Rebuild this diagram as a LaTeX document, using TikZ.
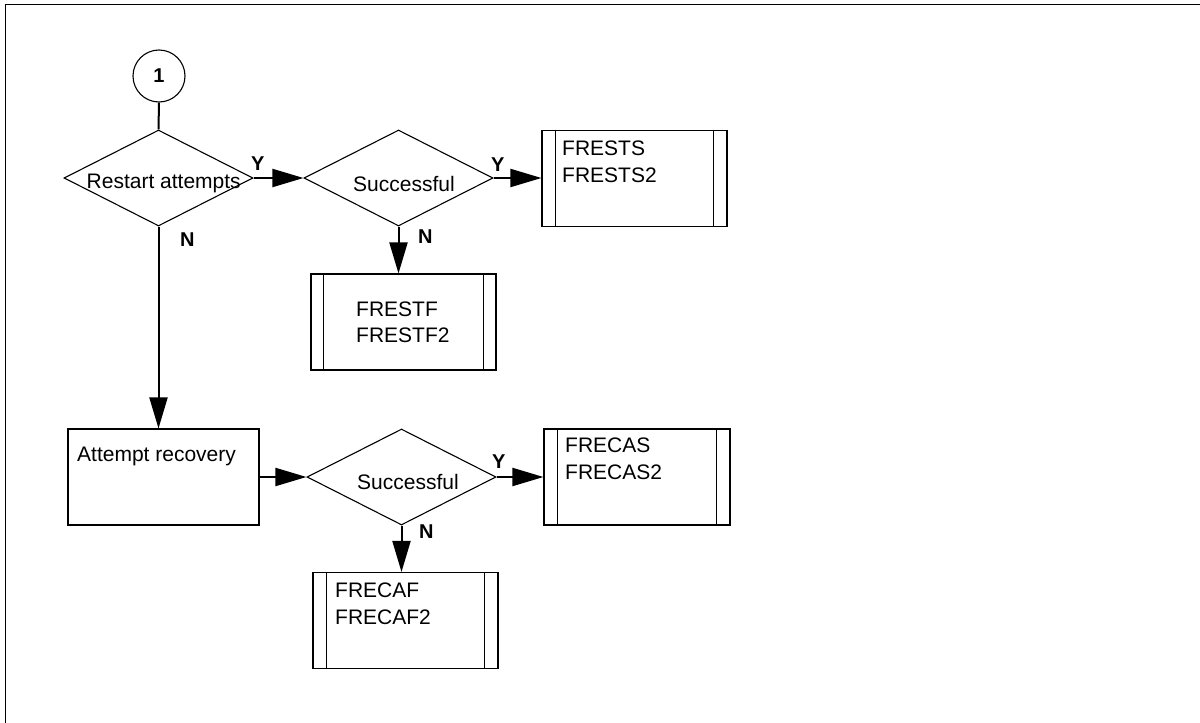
\documentclass[tikz,border=0pt]{standalone}
\usepackage{fontspec}
\setmainfont{Liberation Sans}
\usetikzlibrary{shapes.geometric,arrows.meta}
\begin{document}
\begin{tikzpicture}[x=1pt,y=-1pt,
  outline/.style={draw, line width=1.1pt, inner sep=0pt},
  decision/.style={outline, diamond, minimum width=189pt, minimum height=96pt},
  procbox/.style={outline, rectangle, minimum height=96pt},
  subr/.style={procbox, minimum width=185pt},
  conn/.style={line width=2pt},
  flow/.style={conn, -{Triangle[length=31pt,width=18pt]}},
  txt/.style={inner sep=0pt, font=\fontsize{21}{25}\selectfont},
  lbl/.style={inner sep=0pt, font=\fontsize{20}{24}\selectfont\bfseries}]
\useasboundingbox (0,0) rectangle (1200,723);
\draw[line width=1.6pt] (5.3,723) -- (5.3,4.5) -- (1200,4.5);

% nodes
\node[outline, circle, minimum size=52pt, font=\fontsize{20}{24}\selectfont\bfseries] (start) at (159,76) {1};
\node[decision] (d1) at (158.5,178) {};
\node[decision] (d2) at (398.5,178) {};
\node[subr] (fs) at (634.5,178.5) {};
\node[subr] (ff) at (403.5,322) {};
\node[procbox, minimum width=191pt] (ar) at (163.5,477) {};
\node[decision] (d3) at (401.5,477) {};
\node[subr, minimum width=186pt] (fcs) at (637,477) {};
\node[subr] (fcf) at (405.5,620.5) {};

% inner bars of the predefined-process boxes
\foreach \b/\w in {fs/14, ff/13, fcs/14, fcf/14}{
  \draw[line width=1.1pt] ([xshift=\w pt]\b.north west) -- ([xshift=\w pt]\b.south west);
  \draw[line width=1.1pt] ([xshift=-\w pt]\b.north east) -- ([xshift=-\w pt]\b.south east);
}

% texts
\node[txt, anchor=base west] (t1) at (86.5,188) {Restart attempts};
\node[txt, anchor=base west] (t2) at (353,191) {Successful};
\node[txt, anchor=base west] (t3) at (357,489) {Successful};
\node[txt, anchor=base west] (t4) at (77,461) {Attempt recovery};
\node[txt, anchor=base west] (t5) at (562,155) {FRESTS};
\node[txt, anchor=base west] (t6) at (562,182) {FRESTS2};
\node[txt, anchor=base west] (t7) at (356,316) {FRESTF};
\node[txt, anchor=base west] (t8) at (356,342) {FRESTF2};
\node[txt, anchor=base west] (t9) at (565,452) {FRECAS};
\node[txt, anchor=base west] (t10) at (565,479) {FRECAS2};
\node[txt, anchor=base west] (t11) at (335,597) {FRECAF};
\node[txt, anchor=base west] (t12) at (335,624) {FRECAF2};

% branch labels
\node[lbl, anchor=base west] (y1) at (251,170) {Y};
\node[lbl, anchor=base west] (y2) at (491,171) {Y};
\node[lbl, anchor=base west] (y3) at (492,468) {Y};
\node[lbl, anchor=base west] (n1) at (180,246) {N};
\node[lbl, anchor=base west] (n2) at (418,243) {N};
\node[lbl, anchor=base west] (n3) at (419,538) {N};

% connectors
\draw[conn] (start.south) -- (d1.north);
\draw[flow] (d1.east) -- (d2.west);
\draw[flow] (d2.east) -- (d2.east -| fs.west);
\draw[flow] (d2.south) -- (d2.south |- ff.north);
\draw[flow] (d1.south) -- (d1.south |- ar.north);
\draw[flow] (ar.east) -- (d3.west);
\draw[flow] (d3.east) -- (d3.east -| fcs.west);
\draw[flow] (d3.south) -- (d3.south |- fcf.north);
\end{tikzpicture}
\end{document}
